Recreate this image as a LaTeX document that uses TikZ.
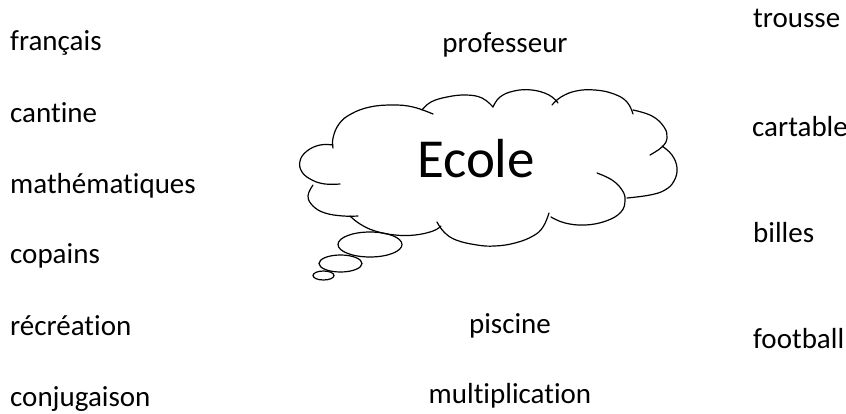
\documentclass[tikz,border=0pt]{standalone}
\usepackage{fontspec}
\setmainfont{Carlito}[Ligatures={NoCommon,NoRequired,NoContextual},RawFeature={-liga;-clig;-calt}]
\begin{document}
\begin{tikzpicture}[x=1pt,y=-1pt,
  word/.style={inner sep=0pt,font=\fontsize{29}{35}\selectfont},
  lobe/.style={line width=1.2pt,line cap=round},
  bubble/.style={line width=1.2pt}]
\useasboundingbox (0,0) rectangle (846,414);
% left column
\node[word,anchor=base west] (fr) at (10,51) {français};
\node[word,anchor=base west] (ca) at (10,123) {cantine};
\node[word,anchor=base west] (ma) at (10,194) {mathématiques};
\node[word,anchor=base west] (co) at (10,263) {copains};
\node[word,anchor=base west] (re) at (10,335) {récréation};
\node[word,anchor=base west] (cj) at (10,406) {conjugaison};
% middle column
\node[word,anchor=base] (pr) at (505,53) {professeur};
\node[word,anchor=base] (pi) at (510,333) {piscine};
\node[word,anchor=base] (mu) at (510,403) {multiplication};
% right column
\node[word,anchor=base west] (tr) at (753,28) {trousse};
\node[word,anchor=base west] (ct) at (752,137) {cartable};
\node[word,anchor=base west] (bi) at (753,243) {billes};
\node[word,anchor=base west] (fo) at (753,348) {football};
% cloud
\draw[lobe] plot[smooth,tension=0.7] coordinates {(333,145) (320,145) (307,151) (300,161) (302,172) (312,180) (325,184) (340,184)};
\draw[lobe] plot[smooth,tension=0.7] coordinates {(313,185) (308,196) (313,206) (325,213) (343,216) (358,216)};
\draw[lobe] plot[smooth,tension=0.7] coordinates {(350,216) (360,224) (375,231) (395,235) (415,235) (433,231) (441,226)};
\draw[lobe] plot[smooth,tension=0.7] coordinates {(437,222) (444,232) (456,240) (477,245) (495,246) (515,243) (533,236) (543,227) (549,213)};
\draw[lobe] plot[smooth,tension=0.7] coordinates {(597,173) (612,180) (622,190) (625,200) (621,212) (606,221) (585,225) (565,223) (551,217)};
\draw[lobe] plot[smooth,tension=0.7] coordinates {(662,146) (672,155) (677,168) (674,181) (665,190) (650,195) (627,198)};
\draw[lobe] plot[smooth,tension=0.7] coordinates {(633,110) (652,116) (664,127) (667,138) (662,147) (650,155)};
\draw[lobe] plot[smooth,tension=0.7] coordinates {(552,105) (561,97) (576,91) (595,90) (614,94) (627,102) (633,114)};
\draw[lobe] plot[smooth,tension=0.7] coordinates {(493,107) (500,97) (514,91) (532,90) (549,95) (558,103)};
\draw[lobe] plot[smooth,tension=0.7] coordinates {(422,110) (431,102) (447,97) (466,95) (482,98) (493,107)};
\draw[lobe] plot[smooth,tension=0.7] coordinates {(333,148) (333,138) (339,124) (351,114) (370,107) (393,105) (413,107) (433,114)};
\node[inner sep=0pt,anchor=base,font=\fontsize{55}{60}\selectfont] (ecole) at (476,178) {Ecole};
% thought bubbles
\draw[bubble] (370,244.5) ellipse[x radius=32,y radius=12.5];
\draw[bubble] (340.5,263.5) ellipse[x radius=21.5,y radius=8.5];
\draw[bubble] (323.5,275.5) ellipse[x radius=10.5,y radius=4.5];
\end{tikzpicture}
\end{document}
